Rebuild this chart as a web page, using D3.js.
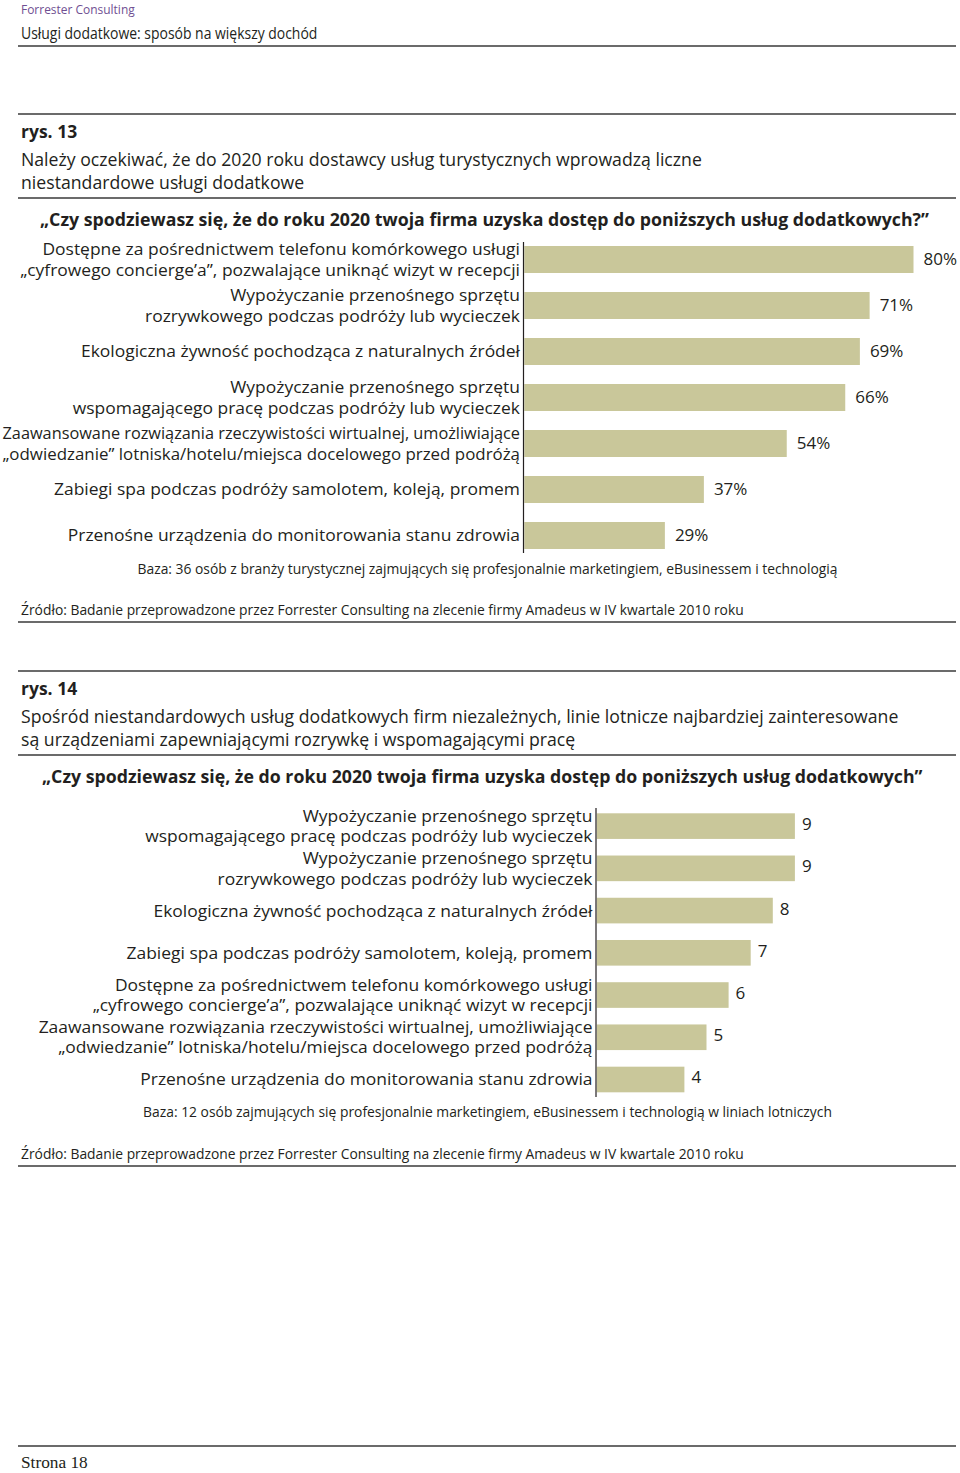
<!DOCTYPE html>
<html><head><meta charset="utf-8">
<script src="https://cdn.jsdelivr.net/npm/d3@7"></script>
<style>body{margin:0;background:#fff}</style>
</head><body>
<svg id="c" width="960" height="1473"></svg>
<script>
const cats13 = [
  ["Dostępne za pośrednictwem telefonu komórkowego usługi", "„cyfrowego concierge’a”, pozwalające uniknąć wizyt w recepcji"],
  ["Wypożyczanie przenośnego sprzętu", "rozrywkowego podczas podróży lub wycieczek"],
  ["Ekologiczna żywność pochodząca z naturalnych źródeł"],
  ["Wypożyczanie przenośnego sprzętu", "wspomagającego pracę podczas podróży lub wycieczek"],
  ["Zaawansowane rozwiązania rzeczywistości wirtualnej, umożliwiające", "„odwiedzanie” lotniska/hotelu/miejsca docelowego przed podróżą"],
  ["Zabiegi spa podczas podróży samolotem, koleją, promem"],
  ["Przenośne urządzenia do monitorowania stanu zdrowia"]
];
const vals13 = [80, 71, 69, 66, 54, 37, 29];
const cats14 = [
  ["Wypożyczanie przenośnego sprzętu", "wspomagającego pracę podczas podróży lub wycieczek"],
  ["Wypożyczanie przenośnego sprzętu", "rozrywkowego podczas podróży lub wycieczek"],
  ["Ekologiczna żywność pochodząca z naturalnych źródeł"],
  ["Zabiegi spa podczas podróży samolotem, koleją, promem"],
  ["Dostępne za pośrednictwem telefonu komórkowego usługi", "„cyfrowego concierge’a”, pozwalające uniknąć wizyt w recepcji"],
  ["Zaawansowane rozwiązania rzeczywistości wirtualnej, umożliwiające", "„odwiedzanie” lotniska/hotelu/miejsca docelowego przed podróżą"],
  ["Przenośne urządzenia do monitorowania stanu zdrowia"]
];
const vals14 = [9, 9, 8, 7, 6, 5, 4];

const svg = d3.select("#c");
const INK = "#231f20";
const BAR = "#c9c79a";
const FONT = "'Open Sans', 'Noto Sans', sans-serif";
const styles = {
  brand:  {size: 13, weight: 400, fill: "#6f4f92", k: 0.92, family: FONT},
  header: {size: 15.5, weight: 400, fill: INK, k: 0.9, family: FONT},
  rys:    {size: 17.5, weight: 700, fill: INK, k: 1.0, family: FONT},
  sub:    {size: 17.5, weight: 400, fill: INK, k: 1.01, family: FONT},
  quest:  {size: 17.5, weight: 700, fill: INK, k: 1.014, family: FONT},
  cat:    {size: 17, weight: 400, fill: INK, k: 1.026, family: FONT},
  val:    {size: 17, weight: 400, fill: INK, k: 1.0, family: FONT},
  note:   {size: 14, weight: 400, fill: INK, k: 0.99, family: FONT},
  page:   {size: 16, weight: 400, fill: INK, k: 1.08, family: "'Liberation Serif', serif"}
};
function txt(g, x, y, s, st, anchor, maxW) {
  const t = g.append("text")
    .attr("text-anchor", anchor || "start")
    .attr("dy", "0.35em")
    .style("font-family", st.family)
    .style("font-size", st.size + "px")
    .style("font-weight", st.weight)
    .attr("fill", st.fill)
    .text(s);
  const w = t.node().getComputedTextLength();
  let k = st.k;
  if (maxW && w * k > maxW) k = maxW / w;
  t.attr("transform", `translate(${x},${y}) scale(${k},1)`);
  return t;
}
function rule(y) {
  svg.append("line").attr("x1", 18).attr("x2", 956).attr("y1", y).attr("y2", y)
    .attr("stroke", "#3a3a3a").attr("stroke-width", 1.4);
}

// header
txt(svg, 21, 9, "Forrester Consulting", styles.brand, "start");
txt(svg, 21, 34, "Usługi dodatkowe: sposób na większy dochód", styles.header, "start");
rule(46);

function chart(cfg) {
  const {top, rys, sub, quest, questX, cats, vals, axisX, unit, y0, step, padIn, labelMax, valOff, valDy, axisTop, axisBot, baza, bazaX, bazaY, zrodloY} = cfg;
  rule(top);
  txt(svg, 21, top + 18, rys, styles.rys, "start");
  sub.forEach((s, i) => txt(svg, 21, top + 46 + i * 22.5, s, styles.sub, "start"));
  rule(top + 84);
  txt(svg, questX, top + 106, quest, styles.quest, "start");

  const n = cats.length;
  const y = d3.scaleBand().domain(d3.range(n)).range([y0, y0 + n * step])
    .paddingInner(padIn).paddingOuter(padIn / 2);
  const x = d3.scaleLinear().domain([0, 100]).range([axisX, axisX + 100 * unit]);
  const g = svg.append("g");
  g.selectAll("rect").data(vals).join("rect")
    .attr("x", x(0) + 0.8).attr("y", (d, i) => y(i))
    .attr("width", d => x(d) - x(0) - 0.8).attr("height", y.bandwidth())
    .attr("fill", BAR);
  vals.forEach((v, i) => {
    const cy = y(i) + y.bandwidth() / 2;
    txt(g, x(v) + valOff, cy + valDy, cfg.fmt(v), styles.val, "start");
    const lines = cats[i];
    lines.forEach((s, j) => {
      const ly = cy + (j - (lines.length - 1) / 2) * 20.5;
      txt(g, axisX - 3.5, ly, s, styles.cat, "end", labelMax);
    });
  });
  g.append("line").attr("x1", axisX).attr("x2", axisX).attr("y1", axisTop).attr("y2", axisBot)
    .attr("stroke", INK).attr("stroke-width", 1.2);
  txt(svg, bazaX, bazaY, baza, styles.note, "middle");
  txt(svg, 21, zrodloY, "Źródło: Badanie przeprowadzone przez Forrester Consulting na zlecenie firmy Amadeus w IV kwartale 2010 roku", styles.note, "start");
  rule(zrodloY + 12);
}

chart({
  top: 114, rys: "rys. 13",
  sub: ["Należy oczekiwać, że do 2020 roku dostawcy usług turystycznych wprowadzą liczne", "niestandardowe usługi dodatkowe"],
  quest: "„Czy spodziewasz się, że do roku 2020 twoja firma uzyska dostęp do poniższych usług dodatkowych?”",
  questX: 40,
  cats: cats13, vals: vals13, axisX: 523.5, unit: 4.875,
  y0: 236.5, step: 46, padIn: 0.413, labelMax: 518, valOff: 10, valDy: 0,
  axisTop: 242, axisBot: 553, fmt: v => v + "%",
  baza: "Baza: 36 osób z branży turystycznej zajmujących się profesjonalnie marketingiem, eBusinessem i technologią",
  bazaX: 487.5, bazaY: 569, zrodloY: 610
});
chart({
  top: 671, rys: "rys. 14",
  sub: ["Spośród niestandardowych usług dodatkowych firm niezależnych, linie lotnicze najbardziej zainteresowane", "są urządzeniami zapewniającymi rozrywkę i wspomagającymi pracę"],
  quest: "„Czy spodziewasz się, że do roku 2020 twoja firma uzyska dostęp do poniższych usług dodatkowych”",
  questX: 42,
  cats: cats14, vals: vals14, axisX: 596, unit: 22.1,
  y0: 805, step: 42.23, padIn: 0.393, labelMax: 580, valOff: 7, valDy: -2,
  axisTop: 808, axisBot: 1097, fmt: v => String(v),
  baza: "Baza: 12 osób zajmujących się profesjonalnie marketingiem, eBusinessem i technologią w liniach lotniczych",
  bazaX: 487.5, bazaY: 1112, zrodloY: 1154
});

rule(1446);
txt(svg, 21, 1462, "Strona 18", styles.page, "start");
</script>
</body></html>
